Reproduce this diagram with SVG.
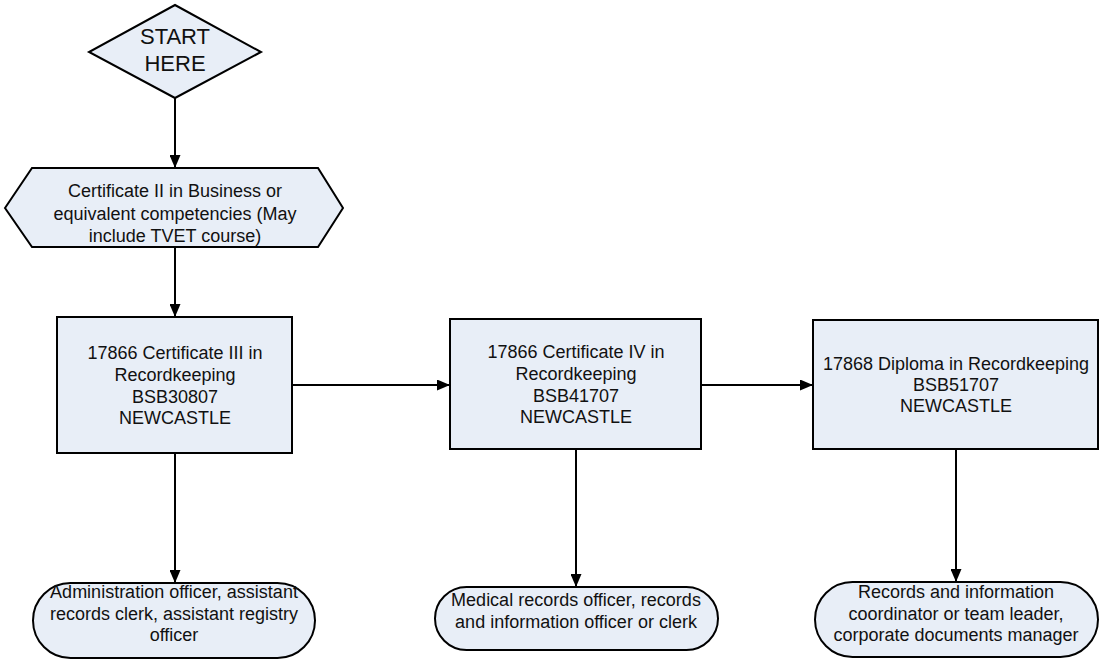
<svg xmlns="http://www.w3.org/2000/svg" width="1101" height="660" viewBox="0 0 1101 660">
<defs>
<marker id="arr" viewBox="0 0 13 11" refX="13" refY="5.5" markerWidth="13" markerHeight="11" markerUnits="userSpaceOnUse" orient="auto">
<path d="M0,0 L13,5.5 L0,11 Z" fill="#000"/>
</marker>
<style>
.shape{fill:#E8EEF7;stroke:#000;stroke-width:2}
.t{font-family:"Liberation Sans",Arial,sans-serif;font-size:18px;fill:#111;text-anchor:middle}
.big{font-size:22px}
.c{fill:none;stroke:#000;stroke-width:2;marker-end:url(#arr)}
</style>
</defs>
<rect width="1101" height="660" fill="#fff"/>
<g id="connectors">
<line class="c" x1="175" y1="98" x2="175" y2="168"/>
<line class="c" x1="175" y1="247" x2="175" y2="317"/>
<line class="c" x1="175" y1="453" x2="175" y2="583"/>
<line class="c" x1="292" y1="385" x2="450" y2="385"/>
<line class="c" x1="701" y1="385" x2="813" y2="385"/>
<line class="c" x1="576" y1="449" x2="576" y2="587"/>
<line class="c" x1="956" y1="449" x2="956" y2="582"/>
</g>
<g id="start">
<polygon class="shape" points="175,5 261,52 175,98 89,52"/>
<text class="t big" x="175" y="44">START</text>
<text class="t big" x="175" y="71">HERE</text>
</g>
<g id="cert2">
<polygon class="shape" points="5,208 32,168 318,168 343,208 318,247 32,247"/>
<text class="t" x="175" y="197">Certificate II in Business or</text>
<text class="t" x="175" y="219.5">equivalent competencies (May</text>
<text class="t" x="175" y="242">include TVET course)</text>
</g>
<g id="cert3">
<rect class="shape" x="57" y="317" width="235" height="136"/>
<text class="t" x="175" y="359">17866 Certificate III in</text>
<text class="t" x="175" y="381">Recordkeeping</text>
<text class="t" x="175" y="402.5">BSB30807</text>
<text class="t" x="175" y="423.5">NEWCASTLE</text>
</g>
<g id="cert4">
<rect class="shape" x="450" y="319" width="251" height="130"/>
<text class="t" x="576" y="358">17866 Certificate IV in</text>
<text class="t" x="576" y="380">Recordkeeping</text>
<text class="t" x="576" y="402">BSB41707</text>
<text class="t" x="576" y="423">NEWCASTLE</text>
</g>
<g id="diploma">
<rect class="shape" x="813" y="320" width="285" height="129"/>
<text class="t" x="956" y="370">17868 Diploma in Recordkeeping</text>
<text class="t" x="956" y="391">BSB51707</text>
<text class="t" x="956" y="412">NEWCASTLE</text>
</g>
<g id="job1">
<rect class="shape" x="33" y="583" width="282" height="75" rx="37.5" ry="37.5"/>
<text class="t" x="174" y="598">Administration officer, assistant</text>
<text class="t" x="174" y="620">records clerk, assistant registry</text>
<text class="t" x="174" y="641">officer</text>
</g>
<g id="job2">
<rect class="shape" x="435" y="587" width="283" height="63" rx="31.5" ry="31.5"/>
<text class="t" x="576" y="606">Medical records officer, records</text>
<text class="t" x="576" y="628">and information officer or clerk</text>
</g>
<g id="job3">
<rect class="shape" x="815" y="582" width="283" height="75" rx="37.5" ry="37.5"/>
<text class="t" x="956" y="598">Records and information</text>
<text class="t" x="956" y="620">coordinator or team leader,</text>
<text class="t" x="956" y="641">corporate documents manager</text>
</g>
</svg>
